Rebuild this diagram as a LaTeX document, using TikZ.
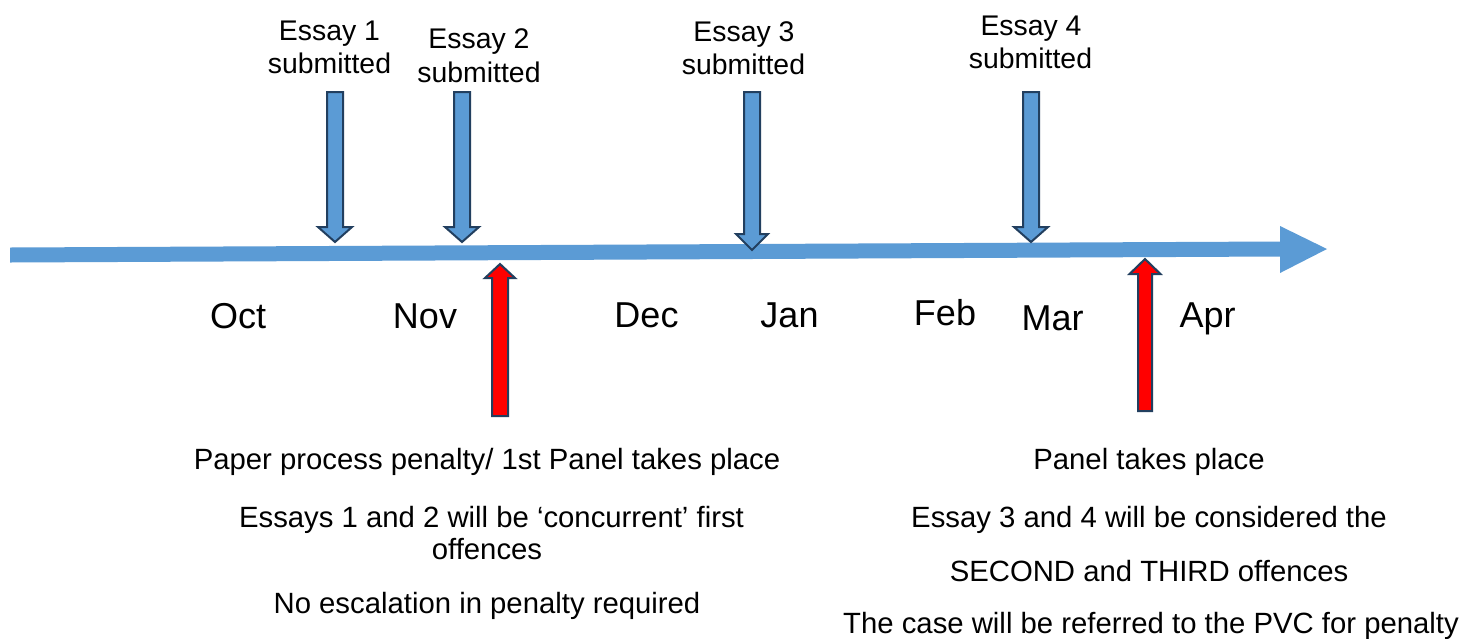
\documentclass[tikz,border=0pt]{standalone}
\usepackage{fontspec}
\setmainfont{Liberation Sans}
\definecolor{lineblue}{HTML}{5B9BD5}
\definecolor{arrowblue}{HTML}{5B9BD5}
\definecolor{outline}{HTML}{223F5F}
\definecolor{arrowred}{HTML}{FF0000}
\tikzset{
  month/.style={font=\fontsize{36}{40}\selectfont, anchor=base, inner sep=0pt},
  toplbl/.style={font=\fontsize{28.4}{33}\selectfont, anchor=base, inner sep=0pt},
  note/.style={font=\fontsize{29.3}{33}\selectfont, anchor=base, inner sep=0pt},
  bluearrow/.style={fill=arrowblue, draw=outline, line width=2pt, line join=miter},
  redarrow/.style={fill=arrowred, draw=outline, line width=2pt, line join=miter},
  timeline/.style={fill=lineblue, draw=none}
}
% #1 style, #2 x centre, #3 shaft end, #4 head base, #5 tip, #6 shaft half width, #7 head half width
\newcommand\blockarrow[7]{%
  \draw[#1] (#2-#6,#3) -- (#2+#6,#3) -- (#2+#6,#4) -- (#2+#7,#4) -- (#2,#5)
    -- (#2-#7,#4) -- (#2-#6,#4) -- cycle;}
\begin{document}
\begin{tikzpicture}[x=1pt,y=-1pt]
\useasboundingbox[fill=white] (0,0) rectangle (1474,638);

% timeline
\coordinate (tstart) at (10,255);
\coordinate (tend) at (1327,249);
\fill[timeline] (10,247.5) -- (1280,241.5) -- (1280,226) -- (tend) -- (1280,273)
  -- (1280,256.5) -- (10,262.5) -- cycle;

% blue arrows (essays submitted)
\blockarrow{bluearrow}{335}{92}{227}{242}{8}{17}
\blockarrow{bluearrow}{462}{92}{227}{242}{8}{17}
\blockarrow{bluearrow}{752}{92}{234}{250}{8}{16}
\blockarrow{bluearrow}{1031}{92}{227}{242}{8}{17}

% red arrows (panels)
\blockarrow{redarrow}{500}{416}{278}{264}{8}{15}
\blockarrow{redarrow}{1145}{411}{274}{259}{7}{15.5}

% top labels
\node[toplbl] (e1a) at (329.5,40) {Essay 1};
\node[toplbl] (e1b) at (329.5,73) {submitted};
\node[toplbl] (e2a) at (479,48) {Essay 2};
\node[toplbl] (e2b) at (479,82) {submitted};
\node[toplbl] (e3a) at (744,41) {Essay 3};
\node[toplbl] (e3b) at (743.5,74) {submitted};
\node[toplbl] (e4a) at (1031,35) {Essay 4};
\node[toplbl] (e4b) at (1030.5,68) {submitted};

% months
\node[month] (oct) at (238,328) {Oct};
\node[month] (nov) at (425,328) {Nov};
\node[month] (dec) at (646.5,327) {Dec};
\node[month] (jan) at (789.5,327) {Jan};
\node[month] (feb) at (945,325) {Feb};
\node[month] (mar) at (1052.5,330) {Mar};
\node[month] (apr) at (1207.5,327) {Apr};

% left notes
\node[note] (l1) at (487,469) {Paper process penalty/ 1st Panel takes place};
\node[note] (l2) at (491.5,527) {Essays 1 and 2 will be ‘concurrent’ first};
\node[note] (l3) at (487,559) {offences};
\node[note] (l4) at (487,613) {No escalation in penalty required};

% right notes
\node[note] (r1) at (1149,469) {Panel takes place};
\node[note] (r2) at (1149,527) {Essay 3 and 4 will be considered the};
\node[note] (r3) at (1149,581) {SECOND and THIRD offences};
\node[note] (r4) at (1151,633) {The case will be referred to the PVC for penalty};
\end{tikzpicture}
\end{document}
